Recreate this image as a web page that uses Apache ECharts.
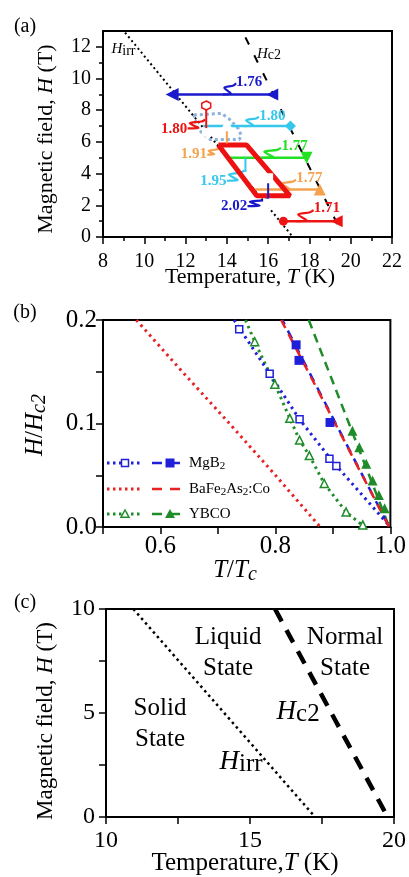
<!DOCTYPE html>
<html><head><meta charset="utf-8">
<script src="https://cdn.jsdelivr.net/npm/echarts@6.0.0/dist/echarts.min.js"></script>
<style>html,body{margin:0;padding:0;background:#fff;}#chart{width:409px;height:877px;}</style>
</head><body><div id="chart"></div>
<script>
// ================= Panel (a) data =================
const aTicksH = [0, 2, 4, 6, 8, 10, 12];
const aMinorH = [1, 3, 5, 7, 9, 11];
const hirrT = [9.07, 17.2];
const hirrH = [12.9, 0];
const hc2T = [14.9, 19.55];
const hc2H = [12.6, 0.3];
// horizontal field sweeps
const sweepH = [9, 7, 5, 3, 1];
const sweepT0 = [11.35, 12.86, 14.1, 15.2, 16.74];
const sweepT1 = [16.2, 17.08, 17.86, 18.5, 19.32];
const sweepRatio = ['1.76', '1.80', '1.77', '1.77', '1.71'];
const sweepLabelT = [15.08, 16.2, 17.28, 18.0, 18.85];
const sweepLabelH = [9.8, 7.65, 5.72, 3.71, 1.82];
const sweepSqT0 = [13.8, 14.85, 15.7, 16.55, 17.35];
const sweepSqT1 = [14.45, 15.55, 16.62, 17.35, 18.2];
const sweepSqH1 = [9.7, 7.6, 5.62, 3.62, 1.7];
// vertical (temperature-fixed) sweeps
const vertT = [13.0, 14.0, 14.9, 16.0];
const vertH0 = [6.6, 5.9, 4.1, 2.1];
const vertH1 = [8.3, 7.05, 5.0, 3.7];
const vertRatio = ['1.80', '1.91', '1.95', '2.02'];
const vertLabelT = [11.45, 12.4, 13.35, 14.35];
const vertLabelH = [6.78, 5.2, 3.5, 1.93];
const vertSqT0 = [12.1, 13.05, 14.0, 15.0];
const vertSqH0 = [6.85, 5.2, 3.55, 1.95];
const vertSqT1 = [12.95, 13.6, 14.85, 15.95];
const vertSqH1 = [7.4, 5.6, 4.2, 2.4];
// thick red parallelogram and light-blue dotted loop
const boxT = [13.59, 14.96, 17.06, 15.45, 13.59];
const boxH = [5.8, 5.8, 2.6, 2.6, 5.8];
const loopT = [12.4, 13.75, 14.15, 14.55, 14.7, 14.6, 13.2, 12.6, 12.4];
const loopH = [7.7, 7.8, 7.4, 6.85, 6.4, 6.15, 6.15, 6.8, 7.7];
const aCurveLabelT = [8.99, 16.04];
const aCurveLabelH = [11.84, 11.56];

// ================= Panel (b) data =================
const mgIrrLineX = [0.728, 0.79, 0.842, 0.9, 0.946, 1.0];
const mgIrrLineY = [0.2, 0.148, 0.104, 0.063, 0.034, 0.0];
const mgIrrPtsX = [0.737, 0.79, 0.842, 0.894, 0.906];
const mgIrrPtsY = [0.191, 0.148, 0.104, 0.066, 0.059];
const mgC2LineX = [0.812, 0.998];
const mgC2LineY = [0.2, 0.0];
const mgC2PtsX = [0.836, 0.841, 0.895];
const mgC2PtsY = [0.176, 0.161, 0.101];
const baIrrLineX = [0.558, 0.638, 0.72, 0.8, 0.878];
const baIrrLineY = [0.2, 0.15, 0.1, 0.05, 0.0];
const baC2LineX = [0.81, 0.998];
const baC2LineY = [0.2, 0.0];
const ybIrrLineX = [0.748, 0.764, 0.799, 0.825, 0.842, 0.859, 0.885, 0.923, 0.955];
const ybIrrLineY = [0.2, 0.179, 0.138, 0.105, 0.084, 0.069, 0.042, 0.0145, 0.0];
const ybIrrPtsX = [0.764, 0.799, 0.825, 0.842, 0.859, 0.885, 0.923, 0.952];
const ybIrrPtsY = [0.179, 0.138, 0.105, 0.084, 0.069, 0.042, 0.0145, 0.002];
const ybC2LineX = [0.858, 0.998];
const ybC2LineY = [0.2, 0.0];
const ybC2PtsX = [0.934, 0.946, 0.958, 0.969, 0.98, 0.99];
const ybC2PtsY = [0.093, 0.077, 0.061, 0.045, 0.031, 0.018];

// ================= Panel (c) data =================
const cHirrT = [10.95, 17.26];
const cHirrH = [10, 0];
const cHc2T = [15.87, 19.78];
const cHc2H = [10, 0];
const stateNames = ['Liquid\nState', 'Normal\nState', 'Solid\nState'];
const stateT = [14.24, 18.3, 11.875];
const stateH = [7.9, 7.9, 4.47];
const cCurveLabelT = [16.67, 14.69];
const cCurveLabelH = [5.05, 2.64];

// ================= build =================
const FONT = '"Liberation Serif","Times New Roman",serif';
const BLK = '#000';
const zip = (a, b) => a.map((v, i) => [v, b[i]]);
const near = (v, list) => list.some(t => Math.abs(v - t) < 1e-6);

function axisBase(gi, fs, margin) {
  return {
    gridIndex: gi, type: 'value',
    axisLine: { show: true, onZero: false, lineStyle: { color: BLK, width: 2 } },
    axisTick: { show: true, inside: false, length: 7, lineStyle: { color: BLK, width: 1.5 } },
    splitLine: { show: false },
    axisLabel: { color: BLK, fontFamily: FONT, fontSize: fs, margin: margin }
  };
}

const xAxes = [
  Object.assign(axisBase(0, 20, 15), { min: 8, max: 22, interval: 2,
    minorTick: { show: true, splitNumber: 2, length: 4, lineStyle: { color: BLK, width: 1.5 } } }),
  Object.assign(axisBase(1, 25, 7), { min: 0.5, max: 1.0, interval: 0.1 }),
  Object.assign(axisBase(2, 24, 12), { min: 10, max: 20, interval: 2.5 })
];
xAxes[1].axisLabel.formatter = v => near(v, [0.6, 0.8, 1.0]) ? v.toFixed(1) : '';
xAxes[2].axisLabel.formatter = v => near(v, [10, 15, 20]) ? String(Math.round(v)) : '';

const yA = Object.assign(axisBase(0, 20, 12), { min: 0, max: 13 });
yA.axisTick.customValues = aTicksH;
yA.axisLabel.customValues = aTicksH;
const yAminor = { gridIndex: 0, type: 'value', min: 0, max: 13, position: 'left',
  axisLine: { show: false }, axisLabel: { show: false }, splitLine: { show: false },
  axisTick: { show: true, length: 4, customValues: aMinorH, lineStyle: { color: BLK, width: 1.5 } } };
const yB = Object.assign(axisBase(1, 25, 6), { min: 0, max: 0.2, interval: 0.05 });
yB.axisLabel.formatter = v => near(v, [0, 0.1, 0.2]) ? v.toFixed(1) : '';
const yC = Object.assign(axisBase(2, 24, 11), { min: 0, max: 10, interval: 2.5 });
yC.axisLabel.formatter = v => near(v, [0, 5, 10]) ? String(Math.round(v)) : '';
const yAxes = [yA, yAminor, yB, yC];

const XI = [0, 1, 2], YI = [0, 2, 3];
const series = [];
function addLine(p, data, color, width, dash, extra) {
  const s = { type: 'line', xAxisIndex: XI[p], yAxisIndex: YI[p], data: data, symbol: 'none',
    silent: true, animation: false, z: 2,
    lineStyle: { color: color, width: width, type: dash || 'solid', cap: 'butt' } };
  if (extra) {
    if (extra.dashOffset !== undefined) s.lineStyle.dashOffset = extra.dashOffset;
    ['smooth', 'z', 'symbol'].forEach(k => { if (extra[k] !== undefined) s[k] = extra[k]; });
  }
  series.push(s);
}
function addScatter(p, data, symbol, size, color, empty) {
  series.push({ type: 'scatter', xAxisIndex: XI[p], yAxisIndex: YI[p], data: data,
    symbol: symbol, symbolSize: size, silent: true, animation: false, z: 6,
    itemStyle: empty ? { color: '#fff', borderColor: color, borderWidth: 1.5, opacity: 1 } : { color: color, opacity: 1 } });
}
function addText(p, items, labelOpt, z) {
  series.push({ type: 'scatter', xAxisIndex: XI[p], yAxisIndex: YI[p], silent: true, animation: false,
    symbol: 'circle', symbolSize: 1, itemStyle: { color: 'rgba(0,0,0,0)', opacity: 1 }, z: z || 8,
    label: Object.assign({ show: true, position: 'inside', formatter: q => q.name,
      fontFamily: FONT, color: BLK, textBorderWidth: 0, opacity: 1 }, labelOpt),
    data: items });
}
function squig(x0, y0, x1, y1) {
  const dx = x1 - x0, dy = y1 - y0;
  return [[x0, y0], [x0 + 0.62 * dx, y0 + 0.06 * dy], [x0 + 0.12 * dx, y0 + 0.6 * dy],
          [x0 + 0.8 * dx, y0 + 0.8 * dy], [x1, y1]];
}

// ---- Panel (a) ----
const hCol = ['#1a1acc', '#36c8ec', '#22e022', '#f4a24e', '#ee1414'];
const vCol = ['#ee1414', '#f4a24e', '#36c8ec', '#1a1acc'];
const HEX = 'path://M0,-1L0.866,-0.5L0.866,0.5L0,1L-0.866,0.5L-0.866,-0.5Z';
addLine(0, zip(hirrT, hirrH), BLK, 2, [2, 3], { z: 1 });
addLine(0, zip(hc2T, hc2H), BLK, 2, [8, 12], { z: 1 });
addLine(0, zip(loopT, loopH), '#8db0dc', 3, [3, 3], { z: 2 });
const leftEnd = [{ s: 'triangle', r: 90, z: 13 }, null, null, null, { s: 'circle', r: 0, z: 9 }];
const rightEnd = [{ s: 'triangle', r: 90, z: 12 }, { s: 'diamond', r: 0, z: 11 }, { s: 'triangle', r: 180, z: 12 },
                  { s: 'triangle', r: 0, z: 12 }, { s: 'triangle', r: 90, z: 12 }];
const endItem = (v, e) => e ? { value: v, symbol: e.s, symbolRotate: e.r, symbolSize: e.z } : { value: v, symbol: 'none' };
sweepH.forEach((h, i) => {
  series.push({ type: 'line', xAxisIndex: 0, yAxisIndex: 0, silent: true, animation: false, z: 3,
    lineStyle: { color: hCol[i], width: 2.5 }, itemStyle: { color: hCol[i] }, symbol: 'circle',
    data: [endItem([sweepT0[i], h], leftEnd[i]), endItem([sweepT1[i], h], rightEnd[i])] });
  addLine(0, squig(sweepSqT0[i], h, sweepSqT1[i], sweepSqH1[i]), hCol[i], 2.2, 'solid', { smooth: 0.3, z: 3 });
});
const vTop = [{ s: HEX, z: 9 }, { s: 'emptyTriangle', z: 10 }, null, { s: 'emptyRect', z: 8 }];
const vBot = [{ s: 'emptyCircle', z: 7 }, null, null, { s: 'emptyRect', z: 8 }];
const vItem = (v, e, c) => e ? { value: v, symbol: e.s, symbolSize: e.z,
  itemStyle: { color: '#fff', borderColor: c, borderWidth: 1.5 } } : { value: v, symbol: 'none' };
vertT.forEach((t, i) => {
  series.push({ type: 'line', xAxisIndex: 0, yAxisIndex: 0, silent: true, animation: false, z: 6,
    lineStyle: { color: vCol[i], width: 2 }, itemStyle: { color: vCol[i] }, symbol: 'circle',
    data: [vItem([t, vertH0[i]], vBot[i], vCol[i]), vItem([t, vertH1[i]], vTop[i], vCol[i])] });
  addLine(0, squig(vertSqT0[i], vertSqH0[i], vertSqT1[i], vertSqH1[i]), vCol[i], 2.2, 'solid', { smooth: 0.3, z: 3 });
});
addLine(0, zip(boxT, boxH), '#ee1111', 5, 'solid', { z: 5 });
addText(0, sweepRatio.map((r, i) => ({ name: r, value: [sweepLabelT[i], sweepLabelH[i]], label: { color: hCol[i] } }))
  .concat(vertRatio.map((r, i) => ({ name: r, value: [vertLabelT[i], vertLabelH[i]], label: { color: vCol[i] } }))),
  { fontSize: 15, fontWeight: 'bold' });
addText(0, [{ name: '{h|H}{s|irr}', value: [aCurveLabelT[0], aCurveLabelH[0]] },
            { name: '{h|H}{s|c2}', value: [aCurveLabelT[1], aCurveLabelH[1]] }],
  { rich: { h: { fontFamily: FONT, fontSize: 15, fontStyle: 'italic', lineHeight: 17, color: BLK },
            s: { fontFamily: FONT, fontSize: 14, lineHeight: 8, verticalAlign: 'bottom', color: BLK } } });

// ---- Panel (b) ----
const cB = '#2020d8', cR = '#e62222', cG = '#1f8c2a';
addLine(1, zip(baIrrLineX, baIrrLineY), cR, 3, [2.5, 4]);
addLine(1, zip(ybIrrLineX, ybIrrLineY), cG, 3, [2.5, 4]);
addLine(1, zip(mgIrrLineX, mgIrrLineY), cB, 3, [2.5, 4]);
addLine(1, zip(ybC2LineX, ybC2LineY), cG, 2.5, [9, 6]);
addLine(1, zip(mgC2LineX, mgC2LineY), cB, 2.5, [9, 7], { dashOffset: 4 });
addLine(1, zip(baC2LineX, baC2LineY), cR, 2.5, [9, 7]);
addScatter(1, zip(mgIrrPtsX, mgIrrPtsY), 'rect', 7, cB, true);
addScatter(1, zip(mgC2PtsX, mgC2PtsY), 'rect', 9, cB, false);
addScatter(1, zip(ybIrrPtsX, ybIrrPtsY), 'triangle', 8, cG, true);
addScatter(1, zip(ybC2PtsX, ybC2PtsY), 'triangle', 10, cG, false);

// ---- Panel (c) ----
addLine(2, zip(cHirrT, cHirrH), BLK, 2.5, [2.5, 3.5]);
addLine(2, zip(cHc2T, cHc2H), BLK, 4.5, [14, 10]);
addText(2, stateNames.map((n, i) => ({ name: n, value: [stateT[i], stateH[i]] })),
  { fontSize: 25, lineHeight: 31, align: 'center' });
addText(2, [{ name: '{h|H}{s|c2}', value: [cCurveLabelT[0], cCurveLabelH[0]] },
            { name: '{h|H}{s|irr}', value: [cCurveLabelT[1], cCurveLabelH[1]] }],
  { rich: { h: { fontFamily: FONT, fontSize: 27, fontStyle: 'italic', lineHeight: 30, color: BLK },
            s: { fontFamily: FONT, fontSize: 25, lineHeight: 8, verticalAlign: 'bottom', color: BLK } } });

// ---- graphic texts (titles, panel tags, legend) ----
const G = [];
function gText(x, y, text, fs, rich, rot, align) {
  const r = {};
  Object.keys(rich || {}).forEach(k => { r[k] = Object.assign({ fontFamily: FONT, fontSize: fs, fill: BLK, color: BLK }, rich[k]); });
  G.push({ type: 'text', x: x, y: y, rotation: rot || 0, z: 50, silent: true,
    style: { text: text, fontFamily: FONT, fontSize: fs, fill: BLK, lineHeight: fs * 1.2,
      align: align || 'center', verticalAlign: 'middle', rich: r } });
}
gText(25, 27, '(a)', 20);
gText(25, 313, '(b)', 20);
gText(25, 603, '(c)', 20);
gText(250, 277, 'Temperature, {i|T} (K)', 22, { i: { fontStyle: 'italic' } });
gText(46, 139, 'Magnetic field, {i|H} (T)', 22, { i: { fontStyle: 'italic' } }, Math.PI / 2);
gText(235, 570, '{i|T}/{i|T}{s|c}', 25, { i: { fontStyle: 'italic', lineHeight: 28 }, s: { fontStyle: 'italic', fontSize: 20, lineHeight: 12, verticalAlign: 'bottom' } });
gText(35, 425, '{i|H}/{i|H}{s|c2}', 25, { i: { fontStyle: 'italic', lineHeight: 28 }, s: { fontStyle: 'italic', fontSize: 20, lineHeight: 12, verticalAlign: 'bottom' } }, Math.PI / 2);
gText(245, 863, 'Temperature,{i|T} (K)', 25, { i: { fontStyle: 'italic' } });
gText(46, 721, 'Magnetic field, {i|H} (T)', 23, { i: { fontStyle: 'italic' } }, Math.PI / 2);

// legend rows in (b)
const legRows = [
  { y: 463, c: cB, m1: 'rectE', m2: 'rect', text: 'MgB{s|2}' },
  { y: 489, c: cR, m1: null, m2: null, text: 'BaFe{s|2}As{s|2}:Co' },
  { y: 514, c: cG, m1: 'triE', m2: 'tri', text: 'YBCO' }
];
function gMark(kind, x, y, c) {
  if (!kind) return;
  const empty = kind.endsWith('E');
  const st = empty ? { fill: '#fff', stroke: c, lineWidth: 1.5 } : { fill: c };
  if (kind.startsWith('rect')) {
    const s = empty ? 7 : 9;
    G.push({ type: 'rect', z: 51, silent: true, shape: { x: x - s / 2, y: y - s / 2, width: s, height: s }, style: st });
  } else {
    const s = empty ? 4 : 5;
    G.push({ type: 'polygon', z: 51, silent: true, shape: { points: [[x, y - s], [x + s, y + s * 0.8], [x - s, y + s * 0.8]] }, style: st });
  }
}
legRows.forEach(r => {
  G.push({ type: 'line', z: 50, silent: true, shape: { x1: 107, y1: r.y, x2: 143, y2: r.y }, style: { stroke: r.c, lineWidth: 3, lineDash: [2.5, 3.5] } });
  G.push({ type: 'line', z: 50, silent: true, shape: { x1: 152, y1: r.y, x2: 180, y2: r.y }, style: { stroke: r.c, lineWidth: 2.5, lineDash: [10, 8] } });
  gMark(r.m1, 125, r.y, r.c);
  gMark(r.m2, 170, r.y, r.c);
  gText(189, r.y, r.text, 15, { s: { fontSize: 11, lineHeight: 6, verticalAlign: 'bottom' } }, 0, 'left');
});

const chart = echarts.init(document.getElementById('chart'), null, { renderer: 'canvas' });
chart.setOption({
  animation: false,
  backgroundColor: '#fff',
  textStyle: { fontFamily: FONT },
  grid: [
    { left: 103, top: 31, width: 289, height: 206, show: true, borderColor: BLK, borderWidth: 2, backgroundColor: 'transparent' },
    { left: 103, top: 320, width: 288, height: 207, show: true, borderColor: BLK, borderWidth: 2, backgroundColor: 'transparent' },
    { left: 106, top: 609, width: 288, height: 208, show: true, borderColor: BLK, borderWidth: 2, backgroundColor: 'transparent' }
  ],
  xAxis: xAxes,
  yAxis: yAxes,
  series: series,
  graphic: G
});
</script></body></html>
